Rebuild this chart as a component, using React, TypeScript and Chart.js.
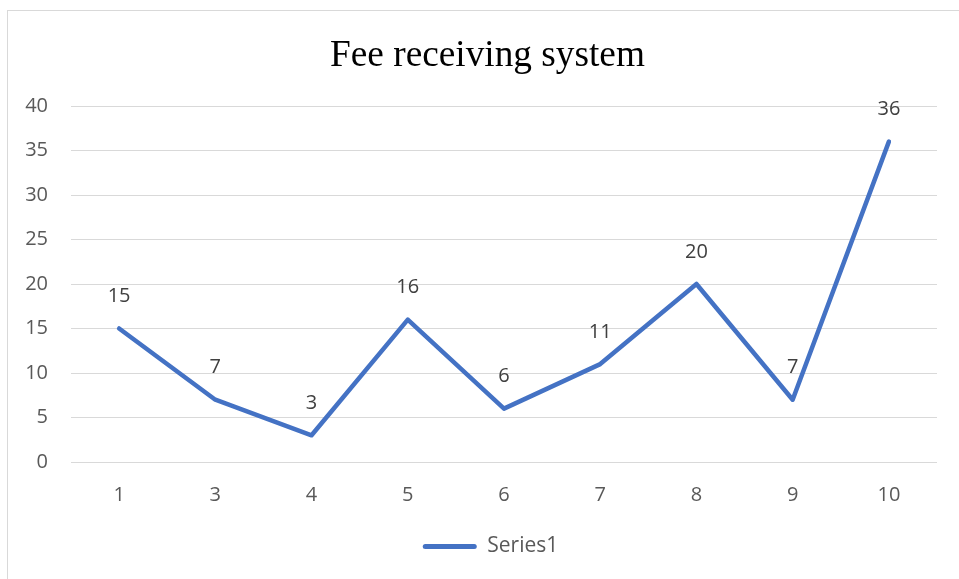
import React, { useEffect, useRef } from "react";
import { Chart, registerables } from "chart.js";

Chart.register(...registerables);

const categories = ["1", "3", "4", "5", "6", "7", "8", "9", "10"];
const series1 = [15, 7, 3, 16, 6, 11, 20, 7, 36];
const yTicks = [0, 5, 10, 15, 20, 25, 30, 35, 40];
const chartTitle = "Fee receiving system";
const seriesName = "Series1";

const LINE_COLOR = "#4472C4";
const TEXT_COLOR = "#595959";
const FONT = "'Open Sans', sans-serif";

const dataLabelPlugin = {
  id: "dataLabels",
  afterDatasetsDraw(chart: any) {
    const ctx = chart.ctx;
    const meta = chart.getDatasetMeta(0);
    ctx.save();
    ctx.font = `20px ${FONT}`;
    ctx.fillStyle = "#404040";
    ctx.textAlign = "center";
    ctx.textBaseline = "middle";
    meta.data.forEach((pt: any, i: number) => {
      ctx.fillText(String(series1[i]), pt.x, pt.y - 32);
    });
    ctx.restore();
  },
};

const titlePlugin = {
  id: "centredTitle",
  afterDraw(chart: any) {
    const ctx = chart.ctx;
    ctx.save();
    ctx.font = "37.3px 'Liberation Serif', 'Times New Roman', serif";
    ctx.fillStyle = "#000000";
    ctx.textAlign = "center";
    ctx.textBaseline = "alphabetic";
    ctx.fillText(chartTitle, 487.5, 66);
    ctx.restore();
  },
};

export default function App() {
  const ref = useRef<HTMLCanvasElement | null>(null);

  useEffect(() => {
    if (!ref.current) return;
    const chart = new Chart(ref.current, {
      type: "line",
      data: {
        labels: categories,
        datasets: [
          {
            label: seriesName,
            data: series1,
            borderColor: LINE_COLOR,
            backgroundColor: LINE_COLOR,
            borderWidth: 4.5,
            borderCapStyle: "round",
            borderJoinStyle: "round",
            pointRadius: 0,
            tension: 0,
            fill: false,
            yAxisID: "y",
          },
        ],
      },
      options: {
        animation: false,
        responsive: false,
        maintainAspectRatio: false,
        layout: { padding: { left: 22, right: 0, top: 106, bottom: 12 } },
        plugins: {
          title: { display: false },
          legend: {
            display: true,
            position: "bottom",
            labels: {
              boxWidth: 54,
              boxHeight: 5,
              padding: 10,
              color: TEXT_COLOR,
              useBorderRadius: true,
              borderRadius: 2.5,
              font: { family: FONT, size: 21 },
              generateLabels: () => [
                {
                  text: seriesName,
                  fillStyle: LINE_COLOR,
                  strokeStyle: LINE_COLOR,
                  lineWidth: 0,
                  borderRadius: 2.5,
                  hidden: false,
                  datasetIndex: 0,
                  fontColor: TEXT_COLOR,
                },
              ],
            },
          },
          tooltip: { enabled: false },
        },
        scales: {
          x: {
            type: "category",
            offset: true,
            grid: { display: false },
            border: { display: false },
            ticks: {
              color: TEXT_COLOR,
              font: { family: FONT, size: 20 },
              padding: 13,
              maxRotation: 0,
            },
            afterFit: (scale: any) => {
              scale.height = 64;
            },
          },
          y: {
            position: "left",
            min: 0,
            max: 40,
            afterBuildTicks: (scale: any) => {
              scale.ticks = yTicks.map((v) => ({ value: v }));
            },
            grid: { color: "#d9d9d9", lineWidth: 1, drawTicks: false },
            border: { display: false },
            ticks: {
              color: TEXT_COLOR,
              font: { family: FONT, size: 20 },
              padding: 23,
            },
            afterFit: (scale: any) => {
              scale.width = 49;
            },
          },
          spacer: {
            type: "linear",
            position: "right",
            display: true,
            grid: { display: false, drawTicks: false },
            border: { display: false },
            ticks: { display: false },
            afterFit: (scale: any) => {
              scale.width = 22;
            },
          },
        },
      },
      plugins: [dataLabelPlugin, titlePlugin],
    } as any);
    return () => chart.destroy();
  }, []);

  return (
    <div style={{ position: "fixed", left: 0, top: 0, width: 959, height: 579, background: "#ffffff", overflow: "hidden" }}>
      <div
        style={{
          position: "absolute",
          left: 7,
          top: 10,
          width: 1000,
          height: 1000,
          borderLeft: "1px solid #d9d9d9",
          borderTop: "1px solid #d9d9d9",
          boxSizing: "border-box",
        }}
      />
      <canvas ref={ref} width={959} height={579} style={{ position: "absolute", left: 0, top: 0, width: 959, height: 579 }} />
    </div>
  );
}
